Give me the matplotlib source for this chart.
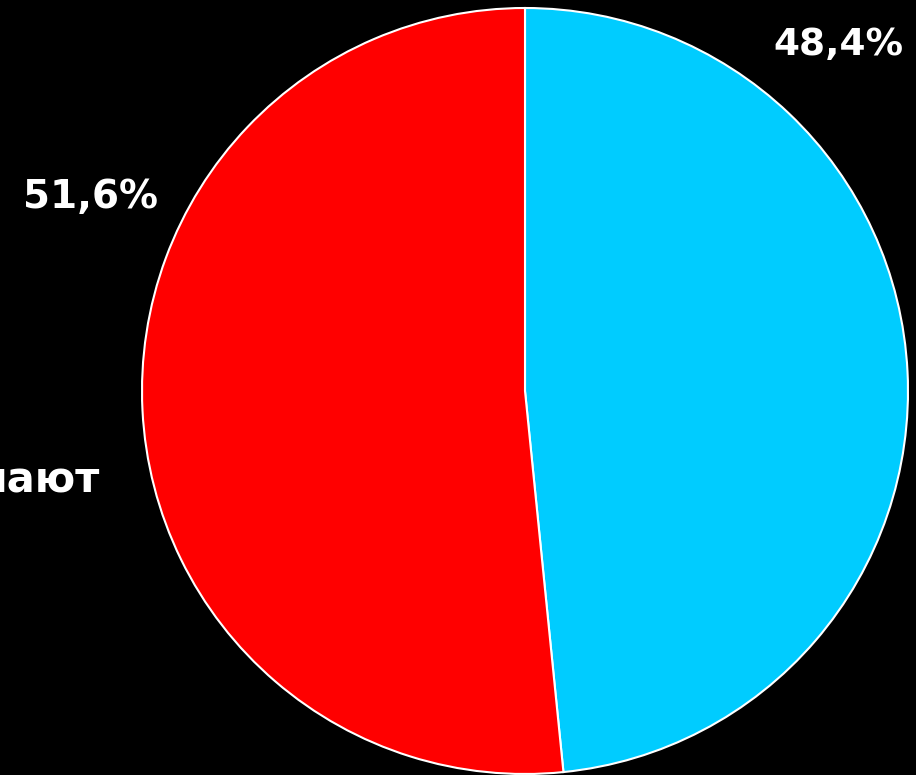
import matplotlib.pyplot as plt

# Pie data
labels = ["Знают", "Не знают"]
shares = [48.4, 51.6]
colors = ["#00CCFF", "#FF0000"]
pct_labels = ["48,4%", "51,6%"]

W, H = 916, 775
fig = plt.figure(figsize=(W / 100, H / 100), dpi=100, facecolor="black")

# pie centre ~ (525, 391) px, radius ~ 383 px
cx, cy, r = 525, 391, 383
ax = fig.add_axes([(cx - r) / W, (H - cy - r) / H, 2 * r / W, 2 * r / H])
ax.set_facecolor("black")
ax.pie(shares, colors=colors, startangle=90, counterclock=False,
       wedgeprops={"edgecolor": "white", "linewidth": 1.5})
ax.set_xlim(-1, 1)
ax.set_ylim(-1, 1)
ax.set_aspect("equal")
ax.axis("off")

# labels outside the pie (wide letter spacing in the original -> DejaVu Sans)
fig.text(838 / W, 1 - 55 / H, pct_labels[0], color="white", fontsize=27,
         fontweight="bold", family="DejaVu Sans", ha="center", va="baseline")
fig.text(90 / W, 1 - 208 / H, pct_labels[1], color="white", fontsize=28,
         fontweight="bold", family="DejaVu Sans", ha="center", va="baseline")
# cut-off category name on the left
fig.text(100 / W, 1 - 492 / H, "нают", color="white", fontsize=30,
         fontweight="bold", family="DejaVu Sans", ha="right", va="baseline")

fig.savefig("out.png", dpi=100, facecolor="black")
